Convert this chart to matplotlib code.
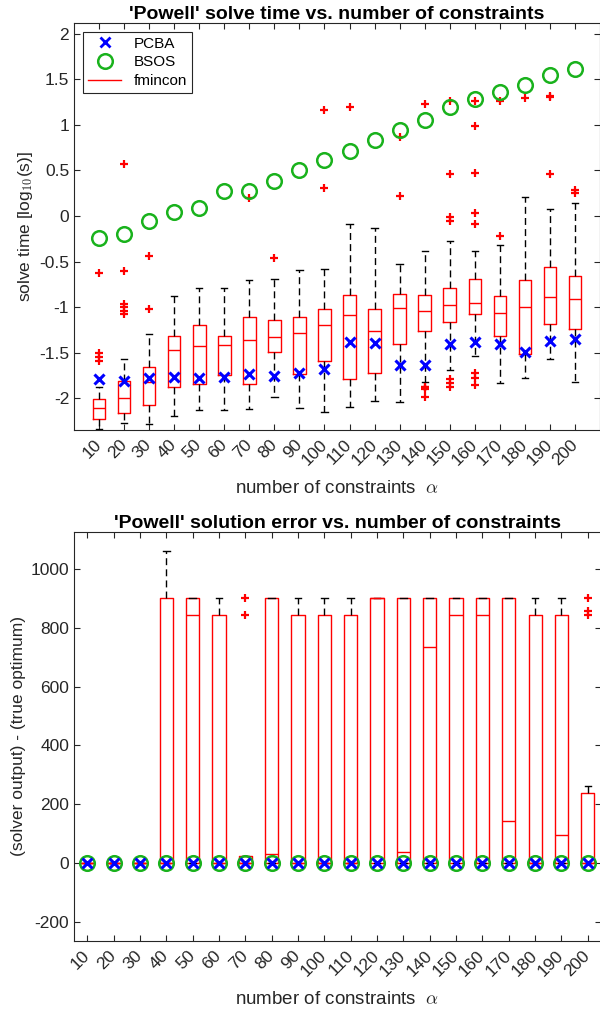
import matplotlib.pyplot as plt
from matplotlib.lines import Line2D

plt.rcParams['font.family'] = ['Liberation Sans', 'DejaVu Sans']
plt.rcParams['axes.unicode_minus'] = False
plt.rcParams['mathtext.fontset'] = 'cm'

# number of constraints (categories)
n_constraints = [10, 20, 30, 40, 50, 60, 70, 80, 90, 100,
                 110, 120, 130, 140, 150, 160, 170, 180, 190, 200]

# ---- top chart: solve time, log10(s) ----
# fmincon box stats
time_whislo = [-2.34, -2.27, -2.28, -2.19, -2.13, -2.13, -2.12, -1.98, -2.11, -2.15,
               -2.09, -2.03, -2.04, -1.82, -1.69, -1.54, -1.83, -1.78, -1.57, -1.82]
time_q1 = [-2.22, -2.16, -2.07, -1.88, -1.84, -1.74, -1.84, -1.49, -1.73, -1.59,
           -1.79, -1.72, -1.40, -1.265, -1.165, -1.075, -1.316, -1.513, -1.18, -1.243]
time_med = [-2.11, -1.99, -1.82, -1.47, -1.42, -1.41, -1.36, -1.33, -1.28, -1.19,
            -1.08, -1.265, -1.01, -1.04, -0.98, -0.954, -1.067, -1.00, -0.885, -0.906]
time_q3 = [-2.01, -1.81, -1.66, -1.31, -1.19, -1.31, -1.11, -1.145, -1.11, -1.02,
           -0.87, -1.02, -0.85, -0.87, -0.79, -0.687, -0.88, -0.70, -0.56, -0.654]
time_whishi = [-1.87, -1.565, -1.29, -0.88, -0.79, -0.79, -0.70, -0.69, -0.59, -0.58,
               -0.09, -0.135, -0.53, -0.38, -0.27, -0.387, -0.318, 0.21, 0.077, 0.139]
time_fliers = [
    [-0.62, -1.50, -1.545, -1.59],
    [0.57, -0.60, -0.96, -1.00, -1.04, -1.07],
    [-0.435, -1.02],
    [],
    [],
    [],
    [0.20],
    [-0.46],
    [],
    [1.16, 0.31],
    [1.19],
    [],
    [0.87, 0.22],
    [1.23, -1.87, -1.88, -1.90, -1.98],
    [1.26, 0.46, -0.01, -0.05, -1.79, -1.835, -1.87],
    [1.26, 0.99, 0.47, 0.03, -0.09, -1.72, -1.78, -1.85],
    [1.26, -0.22],
    [1.29],
    [1.30, 1.32, 0.46],
    [0.285, 0.256],
]
time_pcba = [-1.79, -1.81, -1.78, -1.76, -1.78, -1.77, -1.73, -1.755, -1.725, -1.68,
             -1.38, -1.39, -1.63, -1.63, -1.40, -1.38, -1.40, -1.49, -1.37, -1.35]
time_bsos = [-0.24, -0.20, -0.06, 0.04, 0.085, 0.27, 0.27, 0.38, 0.50, 0.61,
             0.715, 0.83, 0.94, 1.055, 1.19, 1.28, 1.355, 1.44, 1.545, 1.61]

# ---- bottom chart: solution error ----
err_whislo = [0, 0, 0, 0, 0, 0, 0, 0, 0, 0, 0, 0, 0, 0, 0, 0, 0, 0, 0, 0]
err_q1 = [0, 0, 0, 0, 0, 0, 0, 0, 0, 0, 0, 0, 0, 0, 0, 0, 0, 0, 0, 0]
err_med = [0, 0, 0, 0, 843, 0, 0, 33, 0, 0, 0, 900, 38, 735, 843, 843, 142, 0, 97, 0]
err_q3 = [0, 0, 0, 900, 900, 843, 25, 900, 843, 843,
          843, 900, 900, 900, 900, 900, 900, 843, 843, 237]
err_whishi = [0, 0, 0, 1060, 900, 900, 25, 900, 900, 900,
              900, 900, 900, 900, 900, 900, 900, 900, 900, 262]
err_fliers = [[], [], [], [], [], [], [900, 843], [], [], [],
              [], [], [], [], [], [], [], [], [], [900, 858, 843]]
err_pcba = [0, 0, 0, 0, 0, 0, 0, 0, 0, 0, 0, 0, 0, 0, 0, 0, 0, 0, 0, 0]
err_bsos = [0, 0, 0, 0, 0, 0, 0, 0, 0, 0, 0, 0, 0, 0, 0, 0, 0, 0, 0, 0]

GREEN = '#19b21c'
GRAY = '#262626'


def make_stats(lo, q1, med, q3, hi, fl):
    return [dict(whislo=lo[i], q1=q1[i], med=med[i], q3=q3[i], whishi=hi[i], fliers=fl[i])
            for i in range(len(lo))]


def draw_panel(ax, stats, pcba, bsos, title, ylabel):
    pos = list(range(1, len(stats) + 1))
    ax.bxp(stats, positions=pos, widths=0.5, capwidths=0.25,
           boxprops=dict(color='red', lw=1),
           medianprops=dict(color='red', lw=1),
           whiskerprops=dict(color='black', lw=1, linestyle=(0, (5, 3))),
           capprops=dict(color='black', lw=1),
           flierprops=dict(marker='+', markeredgecolor='red', markersize=6, mew=1.6),
           manage_ticks=False)
    ax.plot(pos, pcba, 'x', color='blue', markersize=7.5, mew=2.2, zorder=5)
    ax.plot(pos, bsos, 'o', mfc='none', mec=GREEN, markersize=10.5, mew=1.8, zorder=4)
    ax.set_xticks(pos)
    ax.set_xticklabels([str(c) for c in n_constraints], rotation=45, ha='right',
                       va='center', rotation_mode='anchor')
    ax.tick_params(direction='in', top=True, right=True, length=4, color=GRAY,
                   labelcolor=GRAY, labelsize=12.5)
    ax.tick_params(axis='x', pad=9)
    for s in ax.spines.values():
        s.set_color(GRAY)
        s.set_linewidth(0.8)
    ax.set_title(title, fontsize=14, fontweight='bold', pad=3)
    ax.set_xlabel(r'number of constraints  $\alpha$', fontsize=13.5, color=GRAY, labelpad=8)
    ax.set_ylabel(ylabel, fontsize=12.5, color=GRAY, labelpad=3)


fig = plt.figure(figsize=(6, 10.09), dpi=100)

ax1 = fig.add_axes([74 / 600, 1 - 430 / 1009, 526 / 600, 407 / 1009])
draw_panel(ax1, make_stats(time_whislo, time_q1, time_med, time_q3, time_whishi, time_fliers),
           time_pcba, time_bsos, "'Powell' solve time vs. number of constraints",
           r'solve time [log$_{10}$(s)]')
ax1.set_xlim(0, 21)
ax1.set_ylim(-2.346, 2.116)
ax1.set_yticks([-2, -1.5, -1, -0.5, 0, 0.5, 1, 1.5, 2])
ax1.set_yticklabels(['-2', '-1.5', '-1', '-0.5', '0', '0.5', '1', '1.5', '2'])
handles = [Line2D([], [], ls='none', marker='x', color='blue', markersize=7, mew=2),
           Line2D([], [], ls='none', marker='o', mfc='none', mec=GREEN, markersize=10.5, mew=1.8),
           Line2D([], [], color='red', lw=1)]
leg = ax1.legend(handles, ['PCBA', 'BSOS', 'fmincon'], loc='upper left', fontsize=11,
                 fancybox=False, edgecolor=GRAY, framealpha=1, borderaxespad=0.6,
                 handlelength=2.2, labelspacing=0.3, borderpad=0.3)
leg.get_frame().set_linewidth(0.8)

ax2 = fig.add_axes([74 / 600, 1 - 941 / 1009, 527 / 600, 409 / 1009])
draw_panel(ax2, make_stats(err_whislo, err_q1, err_med, err_q3, err_whishi, err_fliers),
           err_pcba, err_bsos, "'Powell' solution error vs. number of constraints",
           '(solver output) - (true optimum)')
ax2.set_xlim(0.5, 20.5)
ax2.set_ylim(-264, 1125)
ax2.set_yticks([-200, 0, 200, 400, 600, 800, 1000])

fig.savefig('out.png', dpi=100)
